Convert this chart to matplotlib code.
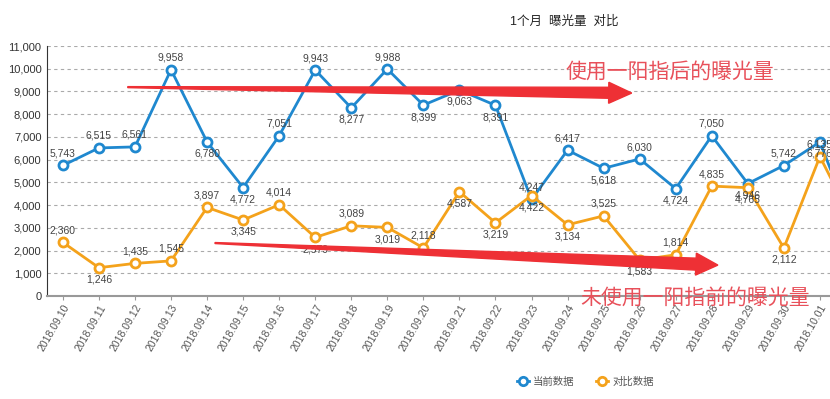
import numpy as np
import matplotlib
matplotlib.use('Agg')
import matplotlib.pyplot as plt
from matplotlib.patches import Polygon
from matplotlib.lines import Line2D

plt.rcParams['font.family'] = ['Liberation Sans', 'Noto Sans CJK SC', 'DejaVu Sans']

# dati
dates = ['2018.09.10', '2018.09.11', '2018.09.12', '2018.09.13', '2018.09.14', '2018.09.15',
         '2018.09.16', '2018.09.17', '2018.09.18', '2018.09.19', '2018.09.20', '2018.09.21',
         '2018.09.22', '2018.09.23', '2018.09.24', '2018.09.25', '2018.09.26', '2018.09.27',
         '2018.09.28', '2018.09.29', '2018.09.30', '2018.10.01', '2018.10.02']
current = [5743, 6515, 6561, 9958, 6780, 4772, 7051, 9943, 8277, 9988, 8399, 9063,
           8391, 4247, 6417, 5618, 6030, 4724, 7050, 4946, 5742, 6776, 2700]
compare = [2360, 1246, 1435, 1545, 3897, 3345, 4014, 2579, 3089, 3019, 2118, 4587,
           3219, 4422, 3134, 3525, 1583, 1814, 4835, 4765, 2112, 6135, 3000]
# posizione delle etichette: 'a' sopra, 'b' sotto
current_pos = list('aaaabbaababbbaababababaa')
compare_pos = list('abaaababababbbbabaabbaaa')

blue = '#1f88cf'
orange = '#f4a21b'

fig = plt.figure(figsize=(8.3, 3.99), dpi=100)
ax = fig.add_axes([47 / 830, 103 / 399, 783 / 830, 250 / 399])

x = np.arange(len(dates))
ax.plot(x, current, color=blue, lw=2, marker='o', ms=6.5, mfc='white', mew=2, zorder=3)
ax.plot(x, compare, color=orange, lw=2, marker='o', ms=6.5, mfc='white', mew=2, zorder=3)

ax.set_yticks(range(0, 11001, 1000))
ax.set_yticklabels([f'{v:,}' for v in range(0, 11001, 1000)], fontsize=8, color='#333333')
ax.set_xticks(x)
ax.set_xticklabels(dates, rotation=60, ha='right', rotation_mode='anchor',
                   fontsize=7.5, color='#555555')
# i limiti dopo set_xticks, altrimenti vengono allargati
ax.set_xlim(-0.44, 21.28)
ax.set_ylim(0, 11000)

# etichette dei valori
for vals, pos in [(current, current_pos), (compare, compare_pos)]:
    for i, v in enumerate(vals):
        if pos[i] == 'a':
            ax.annotate(f'{v:,}', (i, v), xytext=(0, 5), textcoords='offset points',
                        ha='center', va='bottom', fontsize=7.5, color='#444444', zorder=4)
        else:
            ax.annotate(f'{v:,}', (i, v), xytext=(0, -5), textcoords='offset points',
                        ha='center', va='top', fontsize=7.5, color='#444444', zorder=4)

ax.tick_params(axis='y', length=0, pad=4)
ax.tick_params(axis='x', length=3, color='#999999', pad=2)
ax.grid(axis='y', color='#aaaaaa', linestyle=(0, (3, 3)), lw=0.8)
ax.set_axisbelow(True)
for s in ['top', 'right']:
    ax.spines[s].set_visible(False)
ax.spines['left'].set_color('#333333')
ax.spines['bottom'].set_color('#999999')
ax.spines['bottom'].set_linestyle((0, (2, 1)))
ax.spines['bottom'].set_linewidth(1.5)

fig.text(564 / 830, 1 - 22 / 399, '1个月  曝光量  对比', ha='center', va='center',
         fontsize=9, color='#222222')


# frecce rosse disegnate in pixel
def freccia(p0, p1, w_end, head_w, head_l, color):
    a = ax.transData.transform(p0)
    b = ax.transData.transform(p1)
    d = (b - a) / np.linalg.norm(b - a)
    n = np.array([-d[1], d[0]])
    base = b - d * head_l
    pts = [a + n * 0.5, base + n * w_end / 2, base + n * head_w / 2, b,
           base - n * head_w / 2, base - n * w_end / 2, a - n * 0.5]
    fig.patches.append(Polygon(pts, closed=True, color=color, transform=None, zorder=5))


fig.canvas.draw()
freccia((1.8, 9190), (15.78, 8930), 11, 21, 23, '#ee3035')
freccia((4.22, 2330), (18.17, 1360), 12, 22, 22, '#ee3035')

ax.text(16.84, 9850, '使用一阳指后的曝光量', ha='center', va='center',
        fontsize=15, color='#e8505a', zorder=6, clip_on=False)
ax.text(17.53, -90, '未使用一阳指前的曝光量', ha='center', va='center',
        fontsize=15, color='#e8505a', zorder=6, clip_on=False)

handles = [Line2D([], [], color=blue, lw=2, marker='o', ms=6, mfc='white', mew=2),
           Line2D([], [], color=orange, lw=2, marker='o', ms=6, mfc='white', mew=2)]
fig.legend(handles, ['当前数据', '对比数据'], loc='center', bbox_to_anchor=(0.705, 0.043),
           ncol=2, frameon=False, fontsize=7.5, handlelength=1.2, handletextpad=0.4,
           columnspacing=2.0, labelcolor='#555555')

fig.savefig('out.png', dpi=100)
